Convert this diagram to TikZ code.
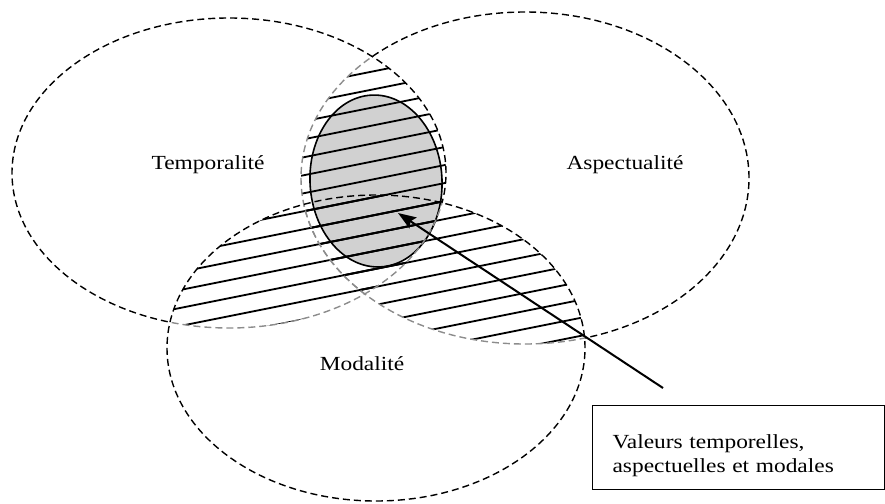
\documentclass[tikz,border=0pt]{standalone}
\usepackage{fontspec}
\setmainfont{Liberation Serif}[FakeStretch=1.17]
\usetikzlibrary{arrows.meta}
\tikzset{
  setline/.style={line width=1.4pt, dash pattern=on 7pt off 4pt},
  hiddenline/.style={setline, draw=black!45},
  hatchline/.style={line width=1.8pt},
  setlabel/.style={anchor=base, font=\fontsize{20}{24}\selectfont},
}
\def\temppath{(229,173) ellipse [x radius=217pt, y radius=155pt]}
\def\aspectpath{(525,178) ellipse [x radius=224pt, y radius=166pt]}
\def\modalpath{(376,348) ellipse [x radius=209pt, y radius=153pt]}
\def\corepath{(376,181) ellipse [x radius=66pt, y radius=86pt]}
\def\outerbox{(-20,-20) rectangle (905,523)}

\begin{document}
\begin{tikzpicture}[x=1pt, y=-1pt]
\useasboundingbox (0,0) rectangle (885,503);

% noyau commun
\fill[black!18, rotate around={3:(376,181)}] \corepath;

% hachures des intersections
\begin{scope}
  \clip \temppath; \clip \aspectpath;
  \foreach \c in {70,88,...,376} \draw[hatchline] (150,{\c+46}) -- (620,{\c-48});
\end{scope}
\begin{scope}
  \clip \temppath; \clip \modalpath;
  \foreach \c in {70,88,...,376} \draw[hatchline] (150,{\c+46}) -- (620,{\c-48});
\end{scope}
\begin{scope}
  \clip \aspectpath; \clip \modalpath;
  \foreach \c in {70,88,...,376} \draw[hatchline] (150,{\c+46}) -- (620,{\c-48});
\end{scope}

\draw[line width=1.6pt, rotate around={3:(376,181)}] \corepath;

% Temporalite
\begin{scope}[even odd rule]
  \clip \outerbox \modalpath;
  \draw[setline] \temppath;
\end{scope}
\begin{scope}
  \clip \modalpath;
  \draw[hiddenline] \temppath;
\end{scope}

% Aspectualite
\begin{scope}[even odd rule]
  \clip \outerbox \temppath;
  \clip \outerbox \modalpath;
  \draw[setline] \aspectpath;
\end{scope}
\begin{scope}
  \clip \temppath;
  \draw[hiddenline] \aspectpath;
\end{scope}
\begin{scope}
  \clip \modalpath;
  \draw[hiddenline] \aspectpath;
\end{scope}

% Modalite
\draw[setline] \modalpath;

\node[setlabel] (temp) at (208,169) {Temporalité};
\node[setlabel] (aspect) at (625,169) {Aspectualité};
\node[setlabel] (modal) at (362,370) {Modalité};

\node[draw, line width=1.2pt, anchor=north west, inner xsep=20pt, inner ysep=13.5pt,
  text width=252pt, align=left, font=\fontsize{20}{24}\selectfont]
  (valeurs) at (592,405) {\rule{0pt}{29pt}Valeurs temporelles,\\aspectuelles et modales};

\coordinate (tail) at (663,388);
\coordinate (tip) at (398,213);
\draw[line width=2pt, -{Stealth[length=18pt, width=13pt, inset=3pt]}] (tail) -- (tip);
\end{tikzpicture}
\end{document}
